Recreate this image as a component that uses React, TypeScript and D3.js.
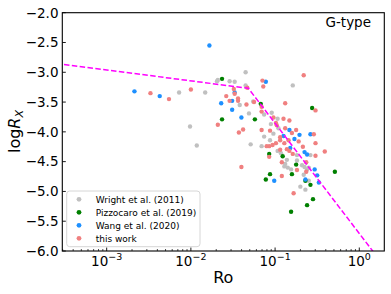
import React, { useEffect } from 'react';
import * as d3 from 'd3';

// values: x is log10(Ro), y is logRx
const wrightLogRo = [-2.14, -2.01, -1.93, -1.83, -1.69, -1.68, -1.54, -1.48, -1.35, -1.35, -1.42, -1.31, -1.26, -1.13, -1.04, -0.79, -0.97, -1.05, -0.96, -1.02, -1.29, -1.13, -1.16, -1.06, -0.97, -0.93, -0.86, -0.74, -0.74, -0.88, -0.68, -0.89, -0.85, -0.81, -0.65, -0.62, -0.60, -0.58, -0.66, -0.60, -0.70, -0.64];
const wrightLogRx = [-3.34, -3.91, -4.23, -3.34, -3.15, -3.13, -3.15, -3.16, -3.00, -3.22, -3.55, -3.69, -3.49, -3.71, -3.68, -3.22, -3.78, -3.87, -3.94, -4.03, -4.21, -4.08, -4.24, -4.14, -4.32, -4.36, -4.47, -4.39, -4.48, -4.54, -4.56, -4.58, -4.60, -4.63, -4.59, -4.63, -4.60, -4.39, -4.72, -4.82, -4.92, -4.97];

const pizzoLogRo = [-1.63, -1.17, -0.56, -1.63, -1.24, -1.07, -0.91, -0.75, -0.29, -1.06, -0.80, -1.11, -0.64, -0.58, -0.55, -0.62, -0.81];
const pizzoLogRx = [-3.11, -3.53, -3.60, -3.79, -3.79, -4.37, -4.41, -4.55, -4.67, -4.71, -4.71, -4.80, -4.82, -4.89, -5.13, -5.23, -5.34];

const wangLogRo = [-2.67, -2.37, -1.78, -1.11, -1.48, -1.51, -1.64, -1.51, -1.40, -0.83, -0.71, -0.58, -0.90, -0.77, -0.82, -0.65, -0.62, -0.53, -0.50, -1.01, -0.64, -0.48];
const wangLogRx = [-3.32, -3.40, -2.55, -3.16, -3.34, -3.48, -3.52, -3.63, -3.76, -3.97, -4.05, -4.04, -4.07, -4.12, -4.27, -4.34, -4.38, -4.63, -4.73, -4.82, -4.80, -4.85];

const thisLogRo = [-2.48, -2.26, -2.00, -0.66, -1.15, -1.14, -1.33, -1.49, -1.58, -1.48, -1.44, -1.44, -1.54, -1.34, -1.25, -0.88, -0.52, -1.16, -1.16, -1.68, -1.02, -0.90, -0.83, -0.99, -0.98, -1.43, -1.38, -1.16, -1.06, -0.88, -0.75, -0.80, -0.54, -0.94, -0.84, -0.72, -0.94, -0.99, -0.89, -1.03, -1.10, -1.07, -0.67, -0.52, -0.41, -0.94, -0.86, -0.83, -0.79, -0.52, -1.07, -0.92, -0.63, -0.74, -0.63, -0.92, -1.40, -0.78];
const thisLogRx = [-3.35, -3.45, -3.29, -3.05, -3.14, -3.24, -3.26, -3.28, -3.40, -3.36, -3.44, -3.48, -3.48, -3.54, -3.50, -3.52, -3.64, -3.66, -3.58, -3.88, -3.76, -3.78, -3.81, -3.85, -3.89, -4.01, -3.96, -3.97, -3.98, -3.94, -3.97, -4.02, -4.04, -4.09, -4.14, -4.16, -4.14, -4.19, -4.19, -4.22, -4.24, -4.24, -4.25, -4.19, -4.33, -4.30, -4.29, -4.32, -4.37, -4.40, -4.42, -4.51, -4.51, -4.64, -4.67, -4.74, -4.59, -5.03];

// broken power-law fit (saturated + unsaturated)
const fitLogRo = [-3.6, -1.318, 0.28];
const fitLogRx = [-2.853, -3.268, -6.224];

const seriesNames = ['Wright et al. (2011)', 'Pizzocaro et al. (2019)', 'Wang et al. (2020)', 'this work'];
const seriesColors = ['#c0c0c0', '#008000', '#1e90ff', '#f08080'];

const yTicks = [-6.0, -5.5, -5.0, -4.5, -4.0, -3.5, -3.0, -2.5, -2.0];
const xTickExps = [-3, -2, -1, 0];

const W = 391;
const H = 294;
const M = { left: 62.3, right: 384.3, top: 12.7, bottom: 251 };
const FONT = 'DejaVu Sans, sans-serif';

const App = () => {
  useEffect(() => {
    document.body.style.margin = '0';
  }, []);

  const x = d3.scaleLog().domain([Math.pow(10, -3.527), Math.pow(10, 0.297)]).range([M.left, M.right]);
  const y = d3.scaleLinear().domain([-6, -2]).range([M.bottom, M.top]);

  const series = [
    [wrightLogRo, wrightLogRx],
    [pizzoLogRo, pizzoLogRx],
    [wangLogRo, wangLogRx],
    [thisLogRo, thisLogRx],
  ].map(([lr, lx], k) => ({
    name: seriesNames[k],
    color: seriesColors[k],
    pts: lr.map((v, i) => ({ ro: Math.pow(10, v), rx: lx[i] })),
  }));

  const fitLine = d3.line<number>()
    .x((d, i) => x(Math.pow(10, fitLogRo[i])))
    .y(d => y(d));

  // minor ticks for the log axis
  const minor: number[] = [];
  for (let e = -4; e <= 0; e++) {
    for (let m = 2; m <= 9; m++) {
      const v = m * Math.pow(10, e);
      if (x(v) >= M.left && x(v) <= M.right) minor.push(v);
    }
  }

  const legendRows = [199.3, 212.3, 225.3, 238.3];

  return (
    <svg width={W} height={H} style={{ display: 'block', fontFamily: FONT }}>
      <defs>
        <clipPath id="plot">
          <rect x={M.left} y={M.top} width={M.right - M.left} height={M.bottom - M.top} />
        </clipPath>
      </defs>
      <rect width={W} height={H} fill="#fff" />

      <g clipPath="url(#plot)">
        {series.map(s => (
          <g key={s.name}>
            {s.pts.map((p, i) => (
              <circle key={i} cx={x(p.ro)} cy={y(p.rx)} r={2.2} fill={s.color} />
            ))}
          </g>
        ))}
        <path d={fitLine(fitLogRx) || ''} fill="none" stroke="#ff00ff" strokeWidth={1.5} strokeDasharray="5.5,2.4" />
      </g>

      {/* ticks */}
      {xTickExps.map(e => (
        <g key={e}>
          <line x1={x(Math.pow(10, e))} x2={x(Math.pow(10, e))} y1={M.bottom} y2={M.bottom - 3.5} stroke="#000" strokeWidth={0.9} />
          <text x={x(Math.pow(10, e))} y={265.5} textAnchor="middle" fontSize={13.5}>
            10<tspan dy={-6} fontSize={9.5}>{e < 0 ? '\u2212' + Math.abs(e) : String(e)}</tspan>
          </text>
        </g>
      ))}
      {minor.map((v, i) => (
        <line key={i} x1={x(v)} x2={x(v)} y1={M.bottom} y2={M.bottom - 2} stroke="#000" strokeWidth={0.7} />
      ))}
      {yTicks.map(t => (
        <g key={t}>
          <line x1={M.left} x2={M.left + 3.5} y1={y(t)} y2={y(t)} stroke="#000" strokeWidth={0.9} />
          <text x={58.5} y={y(t)} dy="0.36em" textAnchor="end" fontSize={13.5}>
            {t.toFixed(1).replace('-', '\u2212')}
          </text>
        </g>
      ))}

      <rect x={M.left} y={M.top} width={M.right - M.left} height={M.bottom - M.top} fill="none" stroke="#000" strokeWidth={1.1} />

      <text x={(M.left + M.right) / 2} y={283.3} textAnchor="middle" fontSize={16}>Ro</text>
      <text transform="translate(19.5,131.5) rotate(-90)" textAnchor="middle" fontSize={16}>
        log<tspan fontStyle="italic">R</tspan><tspan fontStyle="italic" fontSize={11} dy={3}>X</tspan>
      </text>

      <text x={371} y={26.7} textAnchor="end" fontSize={13.5}>G-type</text>

      {/* legend */}
      <rect x={66.7} y={191} width={133.3} height={55.7} rx={3} fill="#fff" fillOpacity={0.8} stroke="#d6d6d6" strokeWidth={1} />
      {series.map((s, i) => (
        <g key={s.name}>
          <circle cx={79} cy={legendRows[i]} r={2.4} fill={s.color} />
          <text x={95.7} y={legendRows[i]} dy="0.36em" fontSize={9}>{s.name}</text>
        </g>
      ))}
    </svg>
  );
};

export default App;
